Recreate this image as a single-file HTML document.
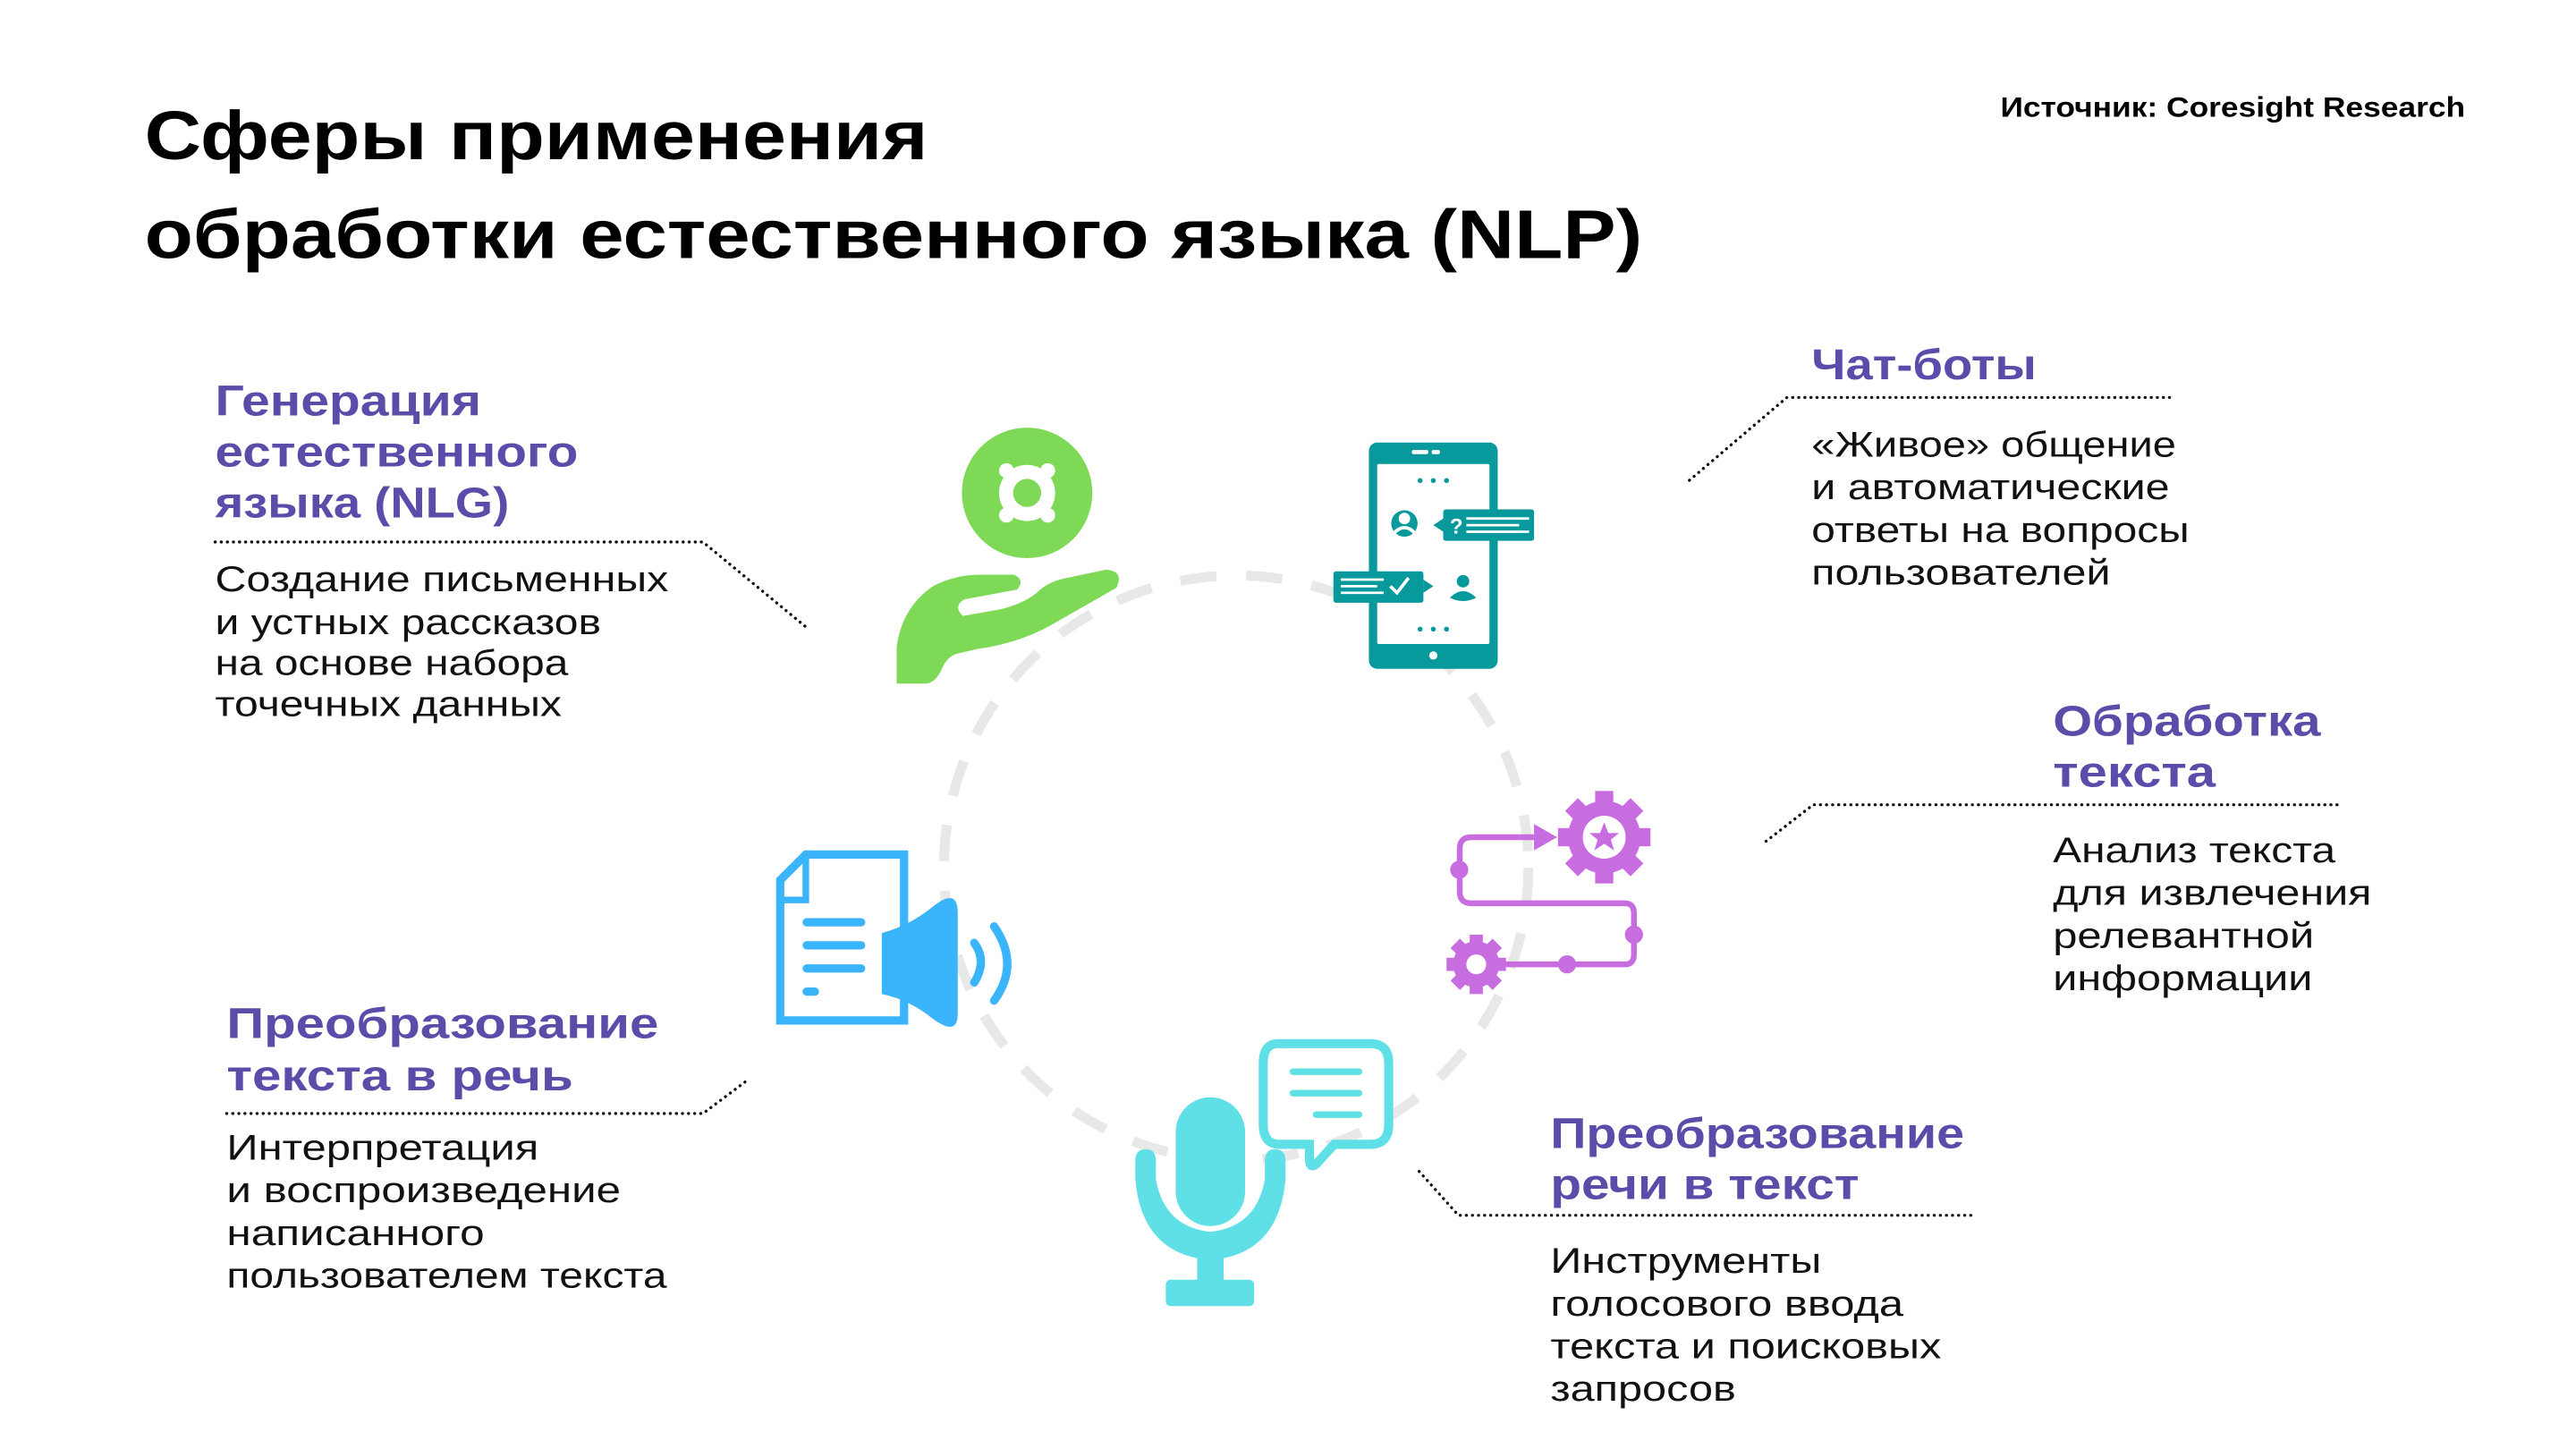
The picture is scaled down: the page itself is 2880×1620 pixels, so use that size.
<!DOCTYPE html>
<html><head><meta charset="utf-8"><style>
html,body{margin:0;padding:0;background:#fff;}
svg{display:block;}
.t{font-family:"Liberation Sans",sans-serif;font-weight:bold;fill:#000;}
.h{font-family:"Liberation Sans",sans-serif;font-weight:bold;fill:#5a4ca8;font-size:26px;}
.b{font-family:"Liberation Sans",sans-serif;fill:#111;font-size:21.5px;}
.d{fill:none;stroke:#111;stroke-width:1.8;stroke-dasharray:0.1 3.6;stroke-linecap:round;}
</style></head><body>
<svg width="2880" height="1620" viewBox="0 0 1560 877.5" xmlns="http://www.w3.org/2000/svg">
<rect width="1560" height="877.5" fill="#fff"/>
<g transform="scale(0.9946)">
<text class="t" x="88" y="97" font-size="42" textLength="477" lengthAdjust="spacingAndGlyphs">Сферы применения</text>
<text class="t" x="88" y="157" font-size="42" textLength="912" lengthAdjust="spacingAndGlyphs">обработки естественного языка (NLP)</text>
<text class="t" x="1218" y="71" font-size="17" textLength="283" lengthAdjust="spacingAndGlyphs">Источник: Coresight Research</text>

<text class="h" x="131" y="253" textLength="162" lengthAdjust="spacingAndGlyphs">Генерация</text>
<text class="h" x="131" y="284" textLength="221" lengthAdjust="spacingAndGlyphs">естественного</text>
<text class="h" x="131" y="315" textLength="179" lengthAdjust="spacingAndGlyphs">языка (NLG)</text>
<path class="d" d="M131 330 L428 330 L491 382"/>
<text class="b" x="131" y="360" textLength="276" lengthAdjust="spacingAndGlyphs">Создание письменных</text>
<text class="b" x="131" y="386" textLength="235" lengthAdjust="spacingAndGlyphs">и устных рассказов</text>
<text class="b" x="131" y="411" textLength="215" lengthAdjust="spacingAndGlyphs">на основе набора</text>
<text class="b" x="131" y="436" textLength="211" lengthAdjust="spacingAndGlyphs">точечных данных</text>

<text class="h" x="1103" y="231" textLength="137" lengthAdjust="spacingAndGlyphs">Чат-боты</text>
<path class="d" d="M1321 242 L1088 242 L1028 293"/>
<text class="b" x="1103" y="278" textLength="222" lengthAdjust="spacingAndGlyphs">«Живое» общение</text>
<text class="b" x="1103" y="304" textLength="218" lengthAdjust="spacingAndGlyphs">и автоматические</text>
<text class="b" x="1103" y="330" textLength="230" lengthAdjust="spacingAndGlyphs">ответы на вопросы</text>
<text class="b" x="1103" y="356" textLength="182" lengthAdjust="spacingAndGlyphs">пользователей</text>

<text class="h" x="1250" y="448" textLength="163" lengthAdjust="spacingAndGlyphs">Обработка</text>
<text class="h" x="1250" y="479" textLength="99" lengthAdjust="spacingAndGlyphs">текста</text>
<path class="d" d="M1423 490 L1104 490 L1073 514"/>
<text class="b" x="1250" y="525" textLength="172" lengthAdjust="spacingAndGlyphs">Анализ текста</text>
<text class="b" x="1250" y="551" textLength="194" lengthAdjust="spacingAndGlyphs">для извлечения</text>
<text class="b" x="1250" y="577" textLength="159" lengthAdjust="spacingAndGlyphs">релевантной</text>
<text class="b" x="1250" y="603" textLength="158" lengthAdjust="spacingAndGlyphs">информации</text>

<text class="h" x="138" y="632" textLength="263" lengthAdjust="spacingAndGlyphs">Преобразование</text>
<text class="h" x="138" y="664" textLength="211" lengthAdjust="spacingAndGlyphs">текста в речь</text>
<path class="d" d="M138 678 L428 678 L456 657"/>
<text class="b" x="138" y="706" textLength="190" lengthAdjust="spacingAndGlyphs">Интерпретация</text>
<text class="b" x="138" y="732" textLength="240" lengthAdjust="spacingAndGlyphs">и воспроизведение</text>
<text class="b" x="138" y="758" textLength="157" lengthAdjust="spacingAndGlyphs">написанного</text>
<text class="b" x="138" y="784" textLength="268" lengthAdjust="spacingAndGlyphs">пользователем текста</text>

<text class="h" x="944" y="699" textLength="252" lengthAdjust="spacingAndGlyphs">Преобразование</text>
<text class="h" x="944" y="730" textLength="188" lengthAdjust="spacingAndGlyphs">речи в текст</text>
<path class="d" d="M1200 740 L888 740 L863 712"/>
<text class="b" x="944" y="775" textLength="165" lengthAdjust="spacingAndGlyphs">Инструменты</text>
<text class="b" x="944" y="801" textLength="215" lengthAdjust="spacingAndGlyphs">голосового ввода</text>
<text class="b" x="944" y="827" textLength="238" lengthAdjust="spacingAndGlyphs">текста и поисковых</text>
<text class="b" x="944" y="853" textLength="113" lengthAdjust="spacingAndGlyphs">запросов</text>
</g>

<circle cx="748.6" cy="525.5" r="177" fill="none" stroke="#e8e8e8" stroke-width="6" stroke-dasharray="22 18"/>

<g fill="#7ed957">
<circle cx="622" cy="298.5" r="39.5"/>
<path d="M543 414 L543 392 Q546 368 565 355 Q578 348 594 348 L614 348 Q621 351 616 357 L584 363 Q577 367 583 373 L606 369 Q622 365 630 357 Q636 352 646 350 L670 345 Q681 346 676 356 L641 376 Q620 389 592 393 L579 396 Q573 398 570 406 Q566 414 560 414 Z"/>
</g>
<g fill="#fff">
<circle cx="622" cy="298.5" r="17"/>
<circle cx="609.5" cy="285" r="4.5"/><circle cx="634.5" cy="285" r="4.5"/>
<circle cx="609.5" cy="312" r="4.5"/><circle cx="634.5" cy="312" r="4.5"/>
</g>
<circle cx="622" cy="298.5" r="8.5" fill="#7ed957"/>

<g>
<rect x="829" y="268" width="78" height="137" rx="5" fill="#07999b"/>
<rect x="834" y="281" width="68" height="109" rx="1" fill="#fff"/>
<rect x="855" y="272.5" width="10" height="2.5" rx="1" fill="#fff"/><rect x="867" y="272.5" width="5" height="2.5" rx="1" fill="#fff"/>
<circle cx="868" cy="397" r="2.5" fill="#fff"/>
<g fill="#07999b"><circle cx="860" cy="291" r="1.5"/><circle cx="868" cy="291" r="1.5"/><circle cx="876" cy="291" r="1.5"/>
<circle cx="860" cy="381" r="1.5"/><circle cx="868" cy="381" r="1.5"/><circle cx="876" cy="381" r="1.5"/>
<circle cx="850.5" cy="317" r="8"/><circle cx="886" cy="352" r="3.8"/><path d="M878 362 Q886 354 894 362 Q886 366 878 362Z"/>
<rect x="874" y="308.5" width="55" height="19" rx="1.5"/><path d="M874 314 L868 318 L874 322Z"/>
<rect x="807.5" y="346" width="54.5" height="19" rx="1.5"/><path d="M862 351 L868 355 L862 359Z"/></g>
<circle cx="850.5" cy="314" r="3.5" fill="#fff"/><path d="M844 323 Q850.5 316 857 323" stroke="#fff" stroke-width="2" fill="none"/>
<text x="878" y="323" font-family="Liberation Sans,sans-serif" font-weight="bold" font-size="13" fill="#fff">?</text>
<g stroke="#fff" stroke-width="1.5"><line x1="888" y1="314" x2="926" y2="314"/><line x1="888" y1="318" x2="920" y2="318"/><line x1="888" y1="322" x2="926" y2="322"/>
<line x1="812" y1="351" x2="838" y2="351"/><line x1="812" y1="355" x2="834" y2="355"/><line x1="812" y1="359" x2="838" y2="359"/></g>
<path d="M842 355 L846 359 L853 350" stroke="#fff" stroke-width="2" fill="none"/>
</g>

<g fill="#c86de0" stroke="#c86de0">
<g stroke="none">
<circle cx="971.5" cy="507" r="22"/>
<rect x="966" y="479" width="11" height="56"/><rect x="943.5" y="501.5" width="56" height="11"/>
<rect x="966" y="479" width="11" height="56" transform="rotate(45 971.5 507)"/><rect x="966" y="479" width="11" height="56" transform="rotate(-45 971.5 507)"/>
<circle cx="894" cy="584" r="14"/>
<rect x="890" y="566" width="8" height="36"/><rect x="876" y="580" width="36" height="8"/>
<rect x="890" y="566" width="8" height="36" transform="rotate(45 894 584)"/><rect x="890" y="566" width="8" height="36" transform="rotate(-45 894 584)"/>
<circle cx="883.7" cy="526.7" r="5.5"/><circle cx="989.5" cy="566" r="5.5"/><circle cx="949" cy="584" r="5.5"/>
<path d="M929 499 L943 507 L929 515Z"/>
</g>
<path d="M930 507 L891 507 Q884 507 884 514 L884 540 Q884 547 891 547 L984 547 Q989.5 547 989.5 553 L989.5 578 Q989.5 584 984 584 L906 584" fill="none" stroke-width="3.5"/>
</g>
<circle cx="971.5" cy="507" r="13" fill="#fff"/>
<path d="M971.5 498 L974 504.5 L980.5 504.5 L975.5 508.5 L977.5 515 L971.5 511 L965.5 515 L967.5 508.5 L962.5 504.5 L969 504.5Z" fill="#c86de0"/>
<circle cx="894" cy="584" r="6" fill="#fff"/>

<g fill="none" stroke="#3ab4fb" stroke-width="5">
<path d="M472.5 533 L488 517.5 L547.5 517.5 L547.5 618 L472.5 618 Z"/>
<path d="M472.5 545 L488 545 L488 517.5" stroke-width="4"/>
</g>
<g fill="#3ab4fb">
<rect x="486" y="556" width="38" height="5" rx="2.5"/><rect x="486" y="570" width="38" height="5" rx="2.5"/><rect x="486" y="584" width="38" height="5" rx="2.5"/><rect x="486" y="598" width="10" height="5" rx="2.5"/>
<path d="M534 565 Q550 561 565 549 Q580 537 580 553 L580 614 Q580 628 565 617 Q550 605 534 602 Z"/>
</g>
<g fill="none" stroke="#3ab4fb" stroke-width="5" stroke-linecap="round">
<path d="M590 571 Q598 582 590 595"/><path d="M602 561 Q618 584 602 606"/>
</g>

<g fill="#5fe0e6">
<rect x="712" y="664.5" width="42" height="78" rx="21"/>
<path d="M687.5 703 Q687.5 696 694 696 Q700 696 700 703 L700 714 Q705 743 733 746 Q761 743 766 714 L766 703 Q766 696 772 696 Q778.5 696 778.5 703 L778.5 714 Q775 755 741 762 L741 777 L725 777 L725 762 Q691 755 687.5 714Z"/>
<rect x="706" y="775" width="53.5" height="16" rx="3"/>
</g>
<path d="M774 632 L830 632 Q841 632 841 644 L841 681 Q841 693 830 693 L808 693 L797 705 Q793 708 793 702 L793 693 L775 693 Q765 693 765 681 L765 644 Q765 632 774 632Z" fill="none" stroke="#5fe0e6" stroke-width="5.5"/>
<g stroke="#5fe0e6" stroke-width="4" stroke-linecap="round"><line x1="783" y1="649" x2="823" y2="649"/><line x1="783" y1="662" x2="823" y2="662"/><line x1="797" y1="675" x2="823" y2="675"/></g>
</svg>
</body></html>
